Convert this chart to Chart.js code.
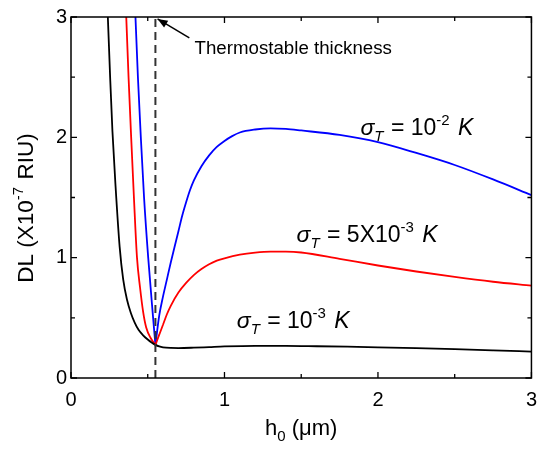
<!DOCTYPE html>
<html>
<head>
<meta charset="utf-8">
<script src="https://cdn.jsdelivr.net/npm/chart.js@4.4.1/dist/chart.umd.min.js"></script>
<style>
  html, body { margin: 0; padding: 0; background: #fff; }
  #wrap { width: 547px; height: 450px; }
</style>
</head>
<body>
<div id="wrap"><canvas id="dlChart" width="547" height="450"></canvas></div>
<script>
'use strict'

const FONT = '"Liberation Sans", Arial, Helvetica, sans-serif';

// Data (h0 in um, DL in 1e-7 RIU)
// sigma_T = 1e-3 K (black)
const hBlack  = [0.233, 0.24, 0.255, 0.27, 0.29, 0.317, 0.34, 0.365, 0.39, 0.415, 0.44, 0.47, 0.50, 0.525, 0.55, 0.575, 0.60, 0.65, 0.70, 0.80, 0.90, 1.00, 1.20, 1.40, 1.60, 1.80, 2.00, 2.25, 2.50, 2.75, 3.00];
const dlBlack = [3.2, 3.0, 2.5, 2.05, 1.6, 1.09, 0.82, 0.65, 0.54, 0.46, 0.40, 0.355, 0.32, 0.295, 0.275, 0.262, 0.255, 0.25, 0.249, 0.252, 0.257, 0.262, 0.267, 0.267, 0.264, 0.26, 0.255, 0.248, 0.24, 0.23, 0.219];

// sigma_T = 5e-3 K (red)
const hRed  = [0.354, 0.36, 0.375, 0.392, 0.41, 0.43, 0.45, 0.47, 0.49, 0.52, 0.55, 0.575, 0.60, 0.625, 0.65, 0.70, 0.75, 0.80, 0.85, 0.90, 0.95, 1.00, 1.10, 1.20, 1.30, 1.40, 1.50, 1.75, 2.00, 2.25, 2.50, 2.75, 3.00];
const dlRed = [3.2, 3.0, 2.5, 2.0, 1.5, 1.0, 0.75, 0.55, 0.42, 0.33, 0.275, 0.36, 0.445, 0.53, 0.60, 0.71, 0.79, 0.855, 0.905, 0.945, 0.975, 0.995, 1.025, 1.042, 1.05, 1.05, 1.043, 0.99, 0.935, 0.885, 0.84, 0.80, 0.767];

// sigma_T = 1e-2 K (blue)
const hBlue  = [0.414, 0.42, 0.436, 0.455, 0.476, 0.503, 0.535, 0.55, 0.575, 0.60, 0.625, 0.65, 0.675, 0.70, 0.725, 0.75, 0.775, 0.80, 0.85, 0.90, 0.95, 1.00, 1.05, 1.10, 1.20, 1.30, 1.40, 1.50, 1.75, 2.00, 2.25, 2.50, 2.75, 3.00];
const dlBlue = [3.2, 3.0, 2.5, 2.0, 1.5, 1.0, 0.5, 0.275, 0.52, 0.68, 0.82, 0.96, 1.09, 1.22, 1.35, 1.46, 1.56, 1.64, 1.76, 1.85, 1.92, 1.97, 2.01, 2.04, 2.065, 2.075, 2.07, 2.057, 2.02, 1.96, 1.87, 1.77, 1.65, 1.52];

// thermostable thickness marker
const hThermo = 0.55;

const xTicks = [0, 1, 2, 3];
const yTicks = [0, 1, 2, 3];

function toPoints(xs, ys) {
    return xs.map((x, i) => ({ x: x, y: ys[i] }));
}

// split a V-shaped curve at the thermostable point so the tip stays sharp
function splitAt(xs, ys, xSplit) {
    const i = xs.indexOf(xSplit);
    const pts = toPoints(xs, ys);
    return [pts.slice(0, i + 1), pts.slice(i)];
}

function setFont(ctx, size, italic) {
    ctx.font = (italic ? 'italic ' : '') + size + 'px ' + FONT;
}

function measureRich(ctx, parts) {
    let w = 0;
    parts.forEach(p => {
        setFont(ctx, p.size, p.italic);
        w += ctx.measureText(p.text).width + (p.gap || 0);
    });
    return w;
}

function drawRich(ctx, x, y, parts) {
    let cx = x;
    parts.forEach(p => {
        setFont(ctx, p.size, p.italic);
        ctx.fillText(p.text, cx, y + (p.dy || 0));
        cx += ctx.measureText(p.text).width + (p.gap || 0);
    });
}

function sigmaLabel(value, exp) {
    return [
        { text: 'σ', size: 23, italic: true },
        { text: 'T', size: 15, italic: true, dy: 6, gap: 1 },
        { text: ' = ' + value, size: 23 },
        { text: exp, size: 15, dy: -10, gap: 2 },
        { text: ' K', size: 23, italic: true }
    ];
}

// curve labels: left edge and baseline in data units
const curveLabels = [
    { x: 1.886, y: 2.02, parts: sigmaLabel('10', '-2') },
    { x: 1.47, y: 1.13, parts: sigmaLabel('5X10', '-3') },
    { x: 1.08, y: 0.415, parts: sigmaLabel('10', '-3') }
];

const framePlugin = {
    id: 'framePlugin',
    afterDatasetsDraw(chart) {
        const ctx = chart.ctx;
        const area = chart.chartArea;
        const xs = chart.scales.x;
        const ys = chart.scales.y;
        ctx.save();
        ctx.strokeStyle = '#000';
        ctx.fillStyle = '#000';

        // frame
        ctx.lineWidth = 1.5;
        ctx.strokeRect(area.left, area.top, area.right - area.left, area.bottom - area.top);

        // inward ticks on all four sides, majors at 1, minors at 0.5
        ctx.lineWidth = 1.3;
        ctx.beginPath();
        for (let v = 0; v <= 3.001; v += 0.5) {
            const major = Math.abs(v - Math.round(v)) < 1e-6;
            const len = major ? 6 : 4;
            const px = xs.getPixelForValue(v);
            ctx.moveTo(px, area.bottom);
            ctx.lineTo(px, area.bottom - len);
            ctx.moveTo(px, area.top);
            ctx.lineTo(px, area.top + len);
            const py = ys.getPixelForValue(v);
            ctx.moveTo(area.left, py);
            ctx.lineTo(area.left + len, py);
            ctx.moveTo(area.right, py);
            ctx.lineTo(area.right - len, py);
        }
        ctx.stroke();

        // axis titles
        ctx.textBaseline = 'alphabetic';
        ctx.textAlign = 'left';
        const xTitle = [
            { text: 'h', size: 22 },
            { text: '0', size: 15, dy: 6 },
            { text: ' (μm)', size: 22 }
        ];
        const xw = measureRich(ctx, xTitle);
        drawRich(ctx, (area.left + area.right) / 2 - xw / 2, 435, xTitle);

        const yTitle = [
            { text: 'DL (X10', size: 22.5 },
            { text: '-7', size: 15, dy: -10, gap: 1 },
            { text: ' RIU)', size: 22.5 }
        ];
        const yw = measureRich(ctx, yTitle);
        ctx.save();
        ctx.translate(33, 208);
        ctx.rotate(-Math.PI / 2);
        drawRich(ctx, -yw / 2, 0, yTitle);
        ctx.restore();

        // annotation arrow
        const tipX = xs.getPixelForValue(0.564), tipY = ys.getPixelForValue(2.984);
        const tailX = xs.getPixelForValue(0.771), tailY = ys.getPixelForValue(2.826);
        ctx.lineWidth = 1.5;
        ctx.beginPath();
        ctx.moveTo(tailX, tailY);
        ctx.lineTo(tipX, tipY);
        ctx.stroke();
        const ang = Math.atan2(tipY - tailY, tipX - tailX);
        const hl = 10, hw = 4;
        ctx.beginPath();
        ctx.moveTo(tipX, tipY);
        ctx.lineTo(tipX - hl * Math.cos(ang) + hw * Math.sin(ang), tipY - hl * Math.sin(ang) - hw * Math.cos(ang));
        ctx.lineTo(tipX - hl * Math.cos(ang) - hw * Math.sin(ang), tipY - hl * Math.sin(ang) + hw * Math.cos(ang));
        ctx.closePath();
        ctx.fill();
        setFont(ctx, 18.7, false);
        ctx.fillText('Thermostable thickness', xs.getPixelForValue(0.805), ys.getPixelForValue(2.69));

        // curve labels
        curveLabels.forEach(l => {
            drawRich(ctx, xs.getPixelForValue(l.x), ys.getPixelForValue(l.y), l.parts);
        });

        ctx.restore();
    }
};

function curve(label, data, color) {
    return {
        label: label,
        data: data,
        borderColor: color,
        fill: false,
        borderWidth: 1.8,
        pointRadius: 0,
        cubicInterpolationMode: 'monotone'
    };
}

const redParts = splitAt(hRed, dlRed, hThermo);
const blueParts = splitAt(hBlue, dlBlue, hThermo);

const ctx = document.getElementById('dlChart').getContext('2d');
const dlChart = new Chart(ctx, {
    type: 'line',
    data: {
        datasets: [
            {
                label: 'Thermostable thickness',
                data: toPoints([hThermo, hThermo], [0, 3]),
                borderColor: '#333',
                borderWidth: 2,
                borderDash: [8, 5],
                pointRadius: 0,
                tension: 0
            },
            curve('σT = 10^-3 K', toPoints(hBlack, dlBlack), '#000000'),
            curve('σT = 5X10^-3 K', redParts[0], '#ff0000'),
            curve('σT = 5X10^-3 K', redParts[1], '#ff0000'),
            curve('σT = 10^-2 K', blueParts[0], '#0000ff'),
            curve('σT = 10^-2 K', blueParts[1], '#0000ff')
        ]
    },
    options: {
        responsive: false,
        animation: false,
        layout: { padding: { top: 17, right: 13, left: 0, bottom: 0 } },
        plugins: {
            legend: { display: false },
            tooltip: { enabled: false }
        },
        scales: {
            x: {
                type: 'linear',
                min: 0,
                max: 3,
                afterBuildTicks: s => { s.ticks = xTicks.map(v => ({ value: v })); },
                ticks: { color: '#000', font: { family: FONT, size: 20 }, padding: 10, maxRotation: 0 },
                grid: { display: false, drawTicks: false },
                border: { display: false },
                afterFit: s => { s.height = 72; }
            },
            y: {
                type: 'linear',
                min: 0,
                max: 3,
                afterBuildTicks: s => { s.ticks = yTicks.map(v => ({ value: v })); },
                ticks: { color: '#000', font: { family: FONT, size: 20 }, padding: 4 },
                grid: { display: false, drawTicks: false },
                border: { display: false },
                afterFit: s => { s.width = 71; }
            }
        }
    },
    plugins: [framePlugin]
});
</script>
</body>
</html>
